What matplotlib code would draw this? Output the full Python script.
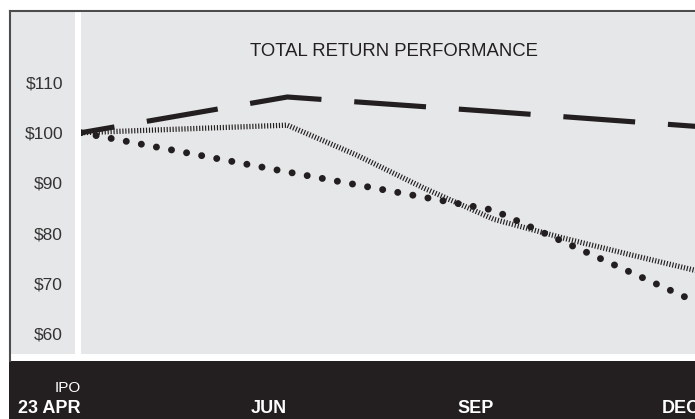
import matplotlib.pyplot as plt
from matplotlib.patches import Rectangle
from matplotlib.lines import Line2D
from matplotlib.transforms import blended_transform_factory

plt.rcParams['font.family'] = ['Liberation Sans', 'DejaVu Sans']

# period index: 0 = IPO (23 Apr), 1 = Jun, 2 = Sep, 3 = Dec
quarter_x = [0, 1, 2, 3]
month_x = [0, 1, 4 / 3, 5 / 3, 2, 7 / 3, 8 / 3, 3]

dashed_vals = [100, 107.1, 104.2, 101.2]
dotted_vals = [100, 92.2, 84.6, 66.0]
hatched_vals = [100, 101.5, 95.6, 88.9, 82.8, 79.1, 75.7, 72.4]

y_ticks = [60, 70, 80, 90, 100, 110]
y_labels = ['$60', '$70', '$80', '$90', '$100', '$110']
x_top = ['IPO', '', '', '']
x_bottom = ['23 APR', 'JUN', 'SEP', 'DEC']

ink = '#231f20'
panel = '#e6e7e8'

W, H = 695, 419
fig = plt.figure(figsize=(W / 100, H / 100), dpi=100)
fig.patch.set_facecolor('white')


def frect(x0, y0, x1, y1, color):
    # rectangle given in pixel coords, top-left origin
    fig.patches.append(Rectangle((x0 / W, 1 - y1 / H), (x1 - x0) / W, (y1 - y0) / H,
                                 transform=fig.transFigure, facecolor=color,
                                 edgecolor='none', zorder=-2))


frect(11, 12, 75, 354, panel)
frect(9, 361, 695, 419, ink)
fig.lines.append(Line2D([10 / W, 10 / W], [1 - 361 / H, 1 - 11 / H], transform=fig.transFigure,
                        color='#4d4d4d', lw=1.5, zorder=-1))
fig.lines.append(Line2D([10 / W, 1], [1 - 11.5 / H, 1 - 11.5 / H], transform=fig.transFigure,
                        color='#4d4d4d', lw=1.5, zorder=-1))

ax = fig.add_axes([81 / W, 1 - 354 / H, (695 - 81) / W, (354 - 12) / H])
ax.set_facecolor(panel)
ax.set_xlim(0, (695 - 81) / 206.3)
ax.set_ylim(56.0, 124.0)
for s in ax.spines.values():
    s.set_visible(False)

ax.plot(month_x, hatched_vals, color=ink, lw=3.8, linestyle=(0, (0.22, 0.34)),
        dash_capstyle='butt', zorder=2)
ax.plot(quarter_x, dotted_vals, color=ink, lw=5.0, linestyle=(0, (0.01, 2.2)),
        dash_capstyle='round', zorder=3)
ax.plot(quarter_x, dashed_vals, color=ink, lw=3.7, linestyle=(7.4, (14.0, 6.4)),
        dash_capstyle='butt', zorder=4)

ax.set_xticks([])
ax.set_yticks(y_ticks)
ax.set_yticklabels(y_labels, fontsize=12.5, color='#333333')
ax.tick_params(axis='y', length=0, pad=13)

ax.text(0.509, 0.884, 'TOTAL RETURN PERFORMANCE', transform=ax.transAxes,
        ha='center', va='center', fontsize=13.3, color=ink)

tr = blended_transform_factory(ax.transData, ax.transAxes)
for x, top, bottom in zip(quarter_x, x_top, x_bottom):
    ax.text(x, (354 - 413) / 342, bottom, transform=tr, ha='right', va='baseline',
            fontsize=13, fontweight='bold', color='white', clip_on=False)
    if top:
        ax.text(x, (354 - 392) / 342, top, transform=tr, ha='right', va='baseline',
                fontsize=11, color='white', clip_on=False)

fig.savefig('out.png', dpi=100, facecolor='white')
